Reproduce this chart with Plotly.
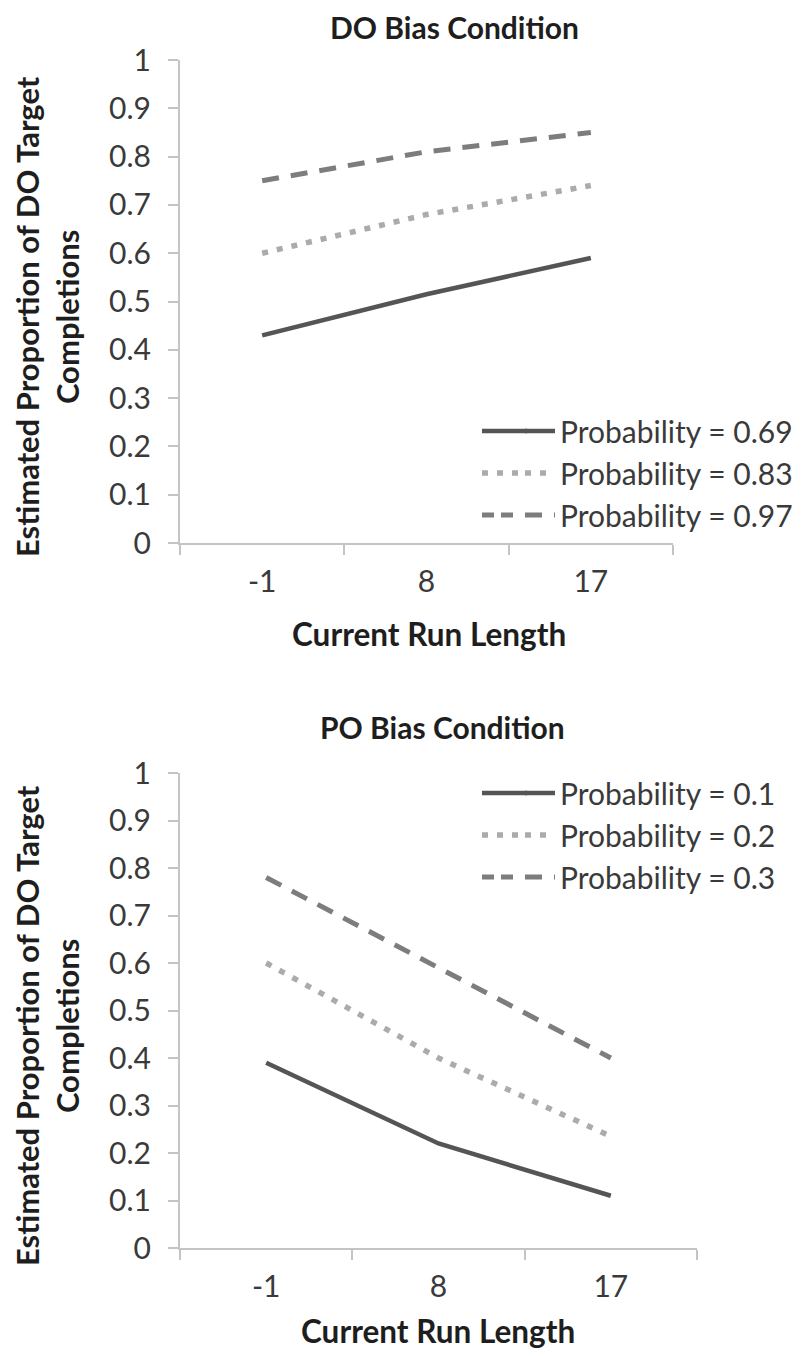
import plotly.graph_objects as go

# ---------------- data ----------------
categories = ["-1", "8", "17"]

do_title = "DO Bias Condition"
po_title = "PO Bias Condition"
x_title = "Current Run Length"
y_title = "Estimated Proportion of DO Target<br>Completions"

do_names = ["Probability = 0.69", "Probability = 0.83", "Probability = 0.97"]
do_p069 = [0.43, 0.515, 0.59]
do_p083 = [0.60, 0.68, 0.74]
do_p097 = [0.75, 0.81, 0.85]

po_names = ["Probability = 0.1", "Probability = 0.2", "Probability = 0.3"]
po_p01 = [0.39, 0.22, 0.11]
po_p02 = [0.60, 0.40, 0.235]
po_p03 = [0.78, 0.59, 0.40]

y_tick_vals = [0, 0.1, 0.2, 0.3, 0.4, 0.5, 0.6, 0.7, 0.8, 0.9, 1]
y_tick_text = ["0", "0.1", "0.2", "0.3", "0.4", "0.5", "0.6", "0.7", "0.8", "0.9", "1"]

# ---------------- layout helpers ----------------
PAGE_W, PAGE_H = 812, 1357
BODY = 8  # default page margin around the plot div
FW, FH = PAGE_W - 2 * BODY, PAGE_H - 2 * BODY
FONT = "Lato"

styles = [
    dict(color="#555555", width=4.5, dash="solid"),
    dict(color="#ababab", width=5.5, dash="6px,9px"),
    dict(color="#7d7d7d", width=5, dash="17px,12px"),
]
# dash used for the short lead-in of each legend key
key_lead_dash = ["solid", "6px,9px", "12px,7px"]


def px(v):
    """page pixel x -> paper fraction"""
    return (v - BODY) / FW


def py(v):
    """page pixel y -> paper fraction"""
    return 1 - (v - BODY) / FH


fig = go.Figure()

for name, vals, st in zip(do_names, [do_p069, do_p083, do_p097], styles):
    fig.add_trace(go.Scatter(x=categories, y=vals, name=name, mode="lines",
                             line=st, xaxis="x", yaxis="y", legend="legend"))
for name, vals, st in zip(po_names, [po_p01, po_p02, po_p03], styles):
    fig.add_trace(go.Scatter(x=categories, y=vals, name=name, mode="lines",
                             line=st, xaxis="x2", yaxis="y2", legend="legend2"))

axis_common = dict(showline=True, linecolor="#c4c4c4", linewidth=2,
                   ticks="outside", ticklen=10, tickwidth=2, tickcolor="#c4c4c4",
                   showgrid=False, zeroline=False, automargin=False,
                   tickfont=dict(family=FONT, size=30, color="#3a3a3a"))

xcommon = dict(axis_common, type="category", tickson="boundaries",
               range=[-0.5, 2.5], ticklabelstandoff=11)
ycommon = dict(axis_common, range=[0, 1], tickvals=y_tick_vals, ticktext=y_tick_text,
               ticklabelstandoff=11)

LEG_FS = 30
legend_font = dict(family=FONT, size=LEG_FS, color="#3a3a3a")
item_h = 1.3 * LEG_FS + 3
first_off = 5 + item_h / 2
do_rows = [473 - item_h, 473, 473 + item_h]
po_rows = [835 - item_h, 835, 835 + item_h]
LEG_X = 520

fig.update_layout(
    width=FW, height=FH, autosize=False,
    margin=dict(l=0, r=0, t=0, b=0, pad=0, autoexpand=False),
    paper_bgcolor="white", plot_bgcolor="white",
    xaxis=dict(xcommon, domain=[px(180), px(673)], anchor="y"),
    yaxis=dict(ycommon, domain=[py(543), py(60)], anchor="x"),
    xaxis2=dict(xcommon, domain=[px(180), px(697)], anchor="y2"),
    yaxis2=dict(ycommon, domain=[py(1248), py(773)], anchor="x2"),
    legend=dict(x=px(LEG_X), xanchor="left", y=py(do_rows[0] - first_off), yanchor="top",
                bgcolor="rgba(0,0,0,0)", font=legend_font,
                tracegroupgap=0, itemwidth=30),
    legend2=dict(x=px(LEG_X), xanchor="left", y=py(po_rows[0] - first_off), yanchor="top",
                 bgcolor="rgba(0,0,0,0)", font=legend_font,
                 tracegroupgap=0, itemwidth=30),
)

# lengthen the legend keys to the left, as in the reference
shapes = []
for rows in (do_rows, po_rows):
    for yrow, st, dash in zip(rows, styles, key_lead_dash):
        x1 = LEG_X + 7 if dash == "solid" else (LEG_X + 5 if dash == "6px,9px" else LEG_X - 7)
        shapes.append(dict(type="line", xref="paper", yref="paper",
                           x0=px(482), x1=px(x1), y0=py(yrow), y1=py(yrow),
                           line=dict(color=st["color"], width=st["width"], dash=dash)))
fig.update_layout(shapes=shapes)

title_font = dict(family=FONT, size=30, color="#1e1e1e", weight="bold")
xt_font = dict(family=FONT, size=31.5, color="#1e1e1e", weight="bold")
yt_font = dict(family=FONT, size=31, color="#1e1e1e", weight="bold")


def note(text, x, y, font, angle=0):
    return dict(text=text, x=px(x), y=py(y), xref="paper", yref="paper",
                showarrow=False, xanchor="center", yanchor="middle",
                textangle=angle, font=font)


fig.update_layout(annotations=[
    note(do_title, 454, 27, title_font),
    note(po_title, 442, 727, title_font),
    note(x_title, 429, 634, xt_font),
    note(x_title, 438, 1331, xt_font),
    note(y_title, 47, 317, yt_font, -90),
    note(y_title, 47, 1026, yt_font, -90),
])

fig.write_html("out.html")
